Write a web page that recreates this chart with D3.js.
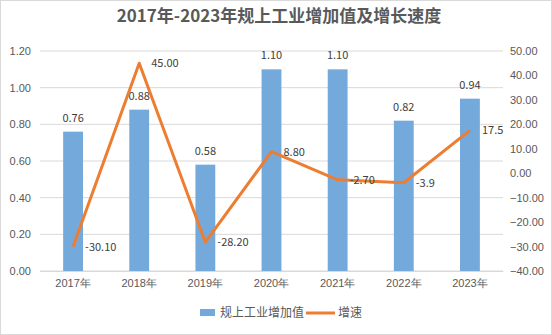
<!DOCTYPE html>
<html><head><meta charset="utf-8">
<script src="https://cdn.jsdelivr.net/npm/d3@7/dist/d3.min.js"></script>
<style>
body{margin:0;background:#fff;}
svg{display:block;font-family:"Microsoft YaHei","Noto Sans CJK SC","Liberation Sans",sans-serif;}
</style></head>
<body>
<svg id="chart" width="552" height="335"></svg>
<script>
const years = ["2017年","2018年","2019年","2020年","2021年","2022年","2023年"];
const addedValue = [0.76, 0.88, 0.58, 1.10, 1.10, 0.82, 0.94];
const growthRate = [-30.10, 45.00, -28.20, 8.80, -2.70, -3.9, 17.5];
const growthLabels = ["-30.10","45.00","-28.20","8.80","-2.70","-3.9","17.5"];
const leftTicks = [0,0.2,0.4,0.6,0.8,1.0,1.2];
const rightTicks = [-40,-30,-20,-10,0,10,20,30,40,50];

const svg = d3.select("#chart");
const W = 552, H = 335;
const m = {left:40, right:49, top:51, bottom:64};

svg.append("rect").attr("x",0.5).attr("y",0.5).attr("width",W-1).attr("height",H-1)
  .attr("fill","#fff").attr("stroke","#d9d9d9");

const x = d3.scaleBand().domain(years).range([m.left, W-m.right]).paddingInner(0.7).paddingOuter(0.35);
const yL = d3.scaleLinear().domain([0,1.2]).range([H-m.bottom, m.top]);
const yR = d3.scaleLinear().domain([-40,50]).range([H-m.bottom, m.top]);

// horizontal gridlines
svg.append("g").selectAll("line").data(leftTicks).join("line")
  .attr("x1",m.left).attr("x2",W-m.right)
  .attr("y1",d=>yL(d)).attr("y2",d=>yL(d))
  .attr("stroke","#d9d9d9").attr("stroke-width",1);

// left axis
const axL = d3.axisLeft(yL).tickValues(leftTicks).tickFormat(d3.format(".2f")).tickSize(0).tickPadding(9);
const gL = svg.append("g").attr("transform",`translate(${m.left},0)`).call(axL);
gL.select(".domain").remove();
gL.selectAll("text").attr("fill","#595959").style("font-size","11px");

// right axis
const axR = d3.axisRight(yR).tickValues(rightTicks).tickFormat(d3.format(".2f")).tickSize(0).tickPadding(7);
const gR = svg.append("g").attr("transform",`translate(${W-m.right},0)`).call(axR);
gR.select(".domain").remove();
gR.selectAll("text").attr("fill","#595959").style("font-size","11px");

// bottom axis
const axB = d3.axisBottom(x).tickSize(0).tickPadding(8);
const gB = svg.append("g").attr("transform",`translate(0,${H-m.bottom})`).call(axB);
gB.select(".domain").attr("stroke","#d9d9d9");
gB.selectAll("text").attr("fill","#595959").style("font-size","11px");

// bars
svg.append("g").selectAll("rect").data(addedValue).join("rect")
  .attr("x",(d,i)=>x(years[i])).attr("width",x.bandwidth())
  .attr("y",d=>yL(d)).attr("height",d=>yL(0)-yL(d))
  .attr("fill","#74a9db");

// bar value labels
svg.append("g").selectAll("text").data(addedValue).join("text")
  .attr("x",(d,i)=>x(years[i])+x.bandwidth()/2).attr("y",d=>yL(d)-10)
  .attr("text-anchor","middle").attr("fill","#404040").style("font-size","11px")
  .text(d=>d3.format(".2f")(d));

// growth line
const cx = i => x(years[i]) + x.bandwidth()/2;
const line = d3.line().x((d,i)=>cx(i)).y(d=>yR(d));
svg.append("path").datum(growthRate).attr("d",line)
  .attr("fill","none").attr("stroke","#ed7d31").attr("stroke-width",3).attr("stroke-linejoin","round");

// growth labels
svg.append("g").selectAll("text").data(growthRate).join("text")
  .attr("x",(d,i)=>cx(i)+12).attr("y",d=>yR(d)).attr("dy","0.35em")
  .attr("fill","#404040").style("font-size","11px")
  .text((d,i)=>growthLabels[i]);

// title
svg.append("text").attr("x",279).attr("y",22).attr("text-anchor","middle")
  .attr("fill","#595959").style("font-size","17px").style("font-weight","bold")
  .text("2017年-2023年规上工业增加值及增长速度");

// legend
const lg = svg.append("g").attr("transform","translate(200,313)");
lg.append("rect").attr("x",0).attr("y",-4).attr("width",15).attr("height",7).attr("fill","#74a9db");
lg.append("text").attr("x",20).attr("y",0).attr("dy","0.35em").attr("fill","#595959").style("font-size","12px").text("规上工业增加值");
lg.append("line").attr("x1",106).attr("x2",135).attr("y1",0).attr("y2",0).attr("stroke","#ed7d31").attr("stroke-width",3);
lg.append("text").attr("x",138).attr("y",0).attr("dy","0.35em").attr("fill","#595959").style("font-size","12px").text("增速");
</script>
</body></html>
